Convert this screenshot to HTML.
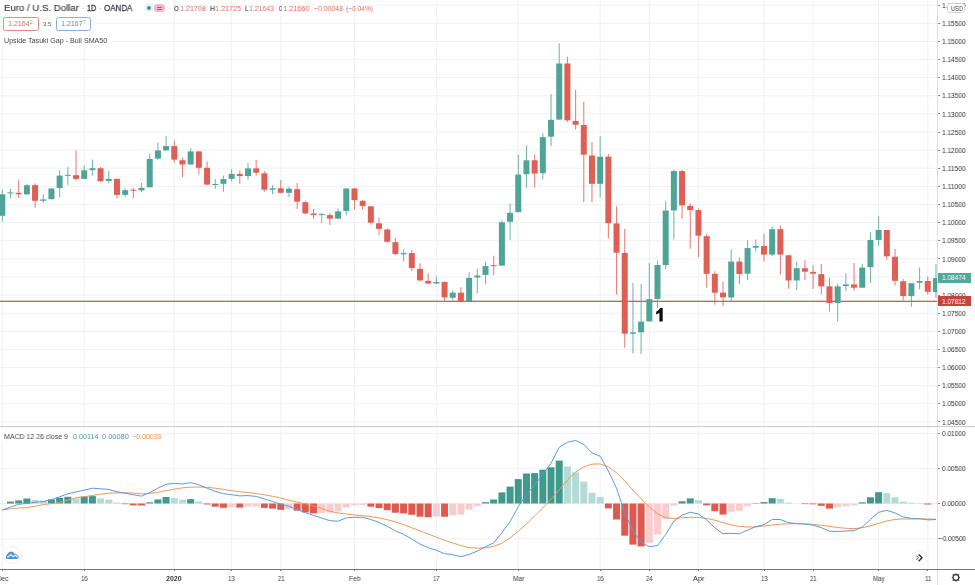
<!DOCTYPE html>
<html><head><meta charset="utf-8"><title>EURUSD</title>
<style>
html,body{margin:0;padding:0;background:#fff;}
body{width:975px;height:585px;position:relative;overflow:hidden;font-family:"Liberation Sans",sans-serif;}
svg{position:absolute;left:0;top:0;}
.t{position:absolute;white-space:nowrap;transform-origin:0 50%;will-change:transform;}
.abs{position:absolute;}
.tick{position:absolute;left:938px;width:2.4px;height:1px;background:#85888d;}
.tk2{position:absolute;top:569px;width:1px;height:2.4px;background:#6b6e73;}
</style></head><body>
<svg width="975" height="585" viewBox="0 0 975 585">
<line x1="0" x2="937.5" y1="5.2" y2="5.2" stroke="#f0f1f3" stroke-width="1"/>
<line x1="0" x2="937.5" y1="23.3" y2="23.3" stroke="#f0f1f3" stroke-width="1"/>
<line x1="0" x2="937.5" y1="41.4" y2="41.4" stroke="#f0f1f3" stroke-width="1"/>
<line x1="0" x2="937.5" y1="59.5" y2="59.5" stroke="#f0f1f3" stroke-width="1"/>
<line x1="0" x2="937.5" y1="77.6" y2="77.6" stroke="#f0f1f3" stroke-width="1"/>
<line x1="0" x2="937.5" y1="95.8" y2="95.8" stroke="#f0f1f3" stroke-width="1"/>
<line x1="0" x2="937.5" y1="113.9" y2="113.9" stroke="#f0f1f3" stroke-width="1"/>
<line x1="0" x2="937.5" y1="132.0" y2="132.0" stroke="#f0f1f3" stroke-width="1"/>
<line x1="0" x2="937.5" y1="150.1" y2="150.1" stroke="#f0f1f3" stroke-width="1"/>
<line x1="0" x2="937.5" y1="168.2" y2="168.2" stroke="#f0f1f3" stroke-width="1"/>
<line x1="0" x2="937.5" y1="186.4" y2="186.4" stroke="#f0f1f3" stroke-width="1"/>
<line x1="0" x2="937.5" y1="204.5" y2="204.5" stroke="#f0f1f3" stroke-width="1"/>
<line x1="0" x2="937.5" y1="222.6" y2="222.6" stroke="#f0f1f3" stroke-width="1"/>
<line x1="0" x2="937.5" y1="240.7" y2="240.7" stroke="#f0f1f3" stroke-width="1"/>
<line x1="0" x2="937.5" y1="258.8" y2="258.8" stroke="#f0f1f3" stroke-width="1"/>
<line x1="0" x2="937.5" y1="277.0" y2="277.0" stroke="#f0f1f3" stroke-width="1"/>
<line x1="0" x2="937.5" y1="295.1" y2="295.1" stroke="#f0f1f3" stroke-width="1"/>
<line x1="0" x2="937.5" y1="313.2" y2="313.2" stroke="#f0f1f3" stroke-width="1"/>
<line x1="0" x2="937.5" y1="331.3" y2="331.3" stroke="#f0f1f3" stroke-width="1"/>
<line x1="0" x2="937.5" y1="349.4" y2="349.4" stroke="#f0f1f3" stroke-width="1"/>
<line x1="0" x2="937.5" y1="367.6" y2="367.6" stroke="#f0f1f3" stroke-width="1"/>
<line x1="0" x2="937.5" y1="385.7" y2="385.7" stroke="#f0f1f3" stroke-width="1"/>
<line x1="0" x2="937.5" y1="403.8" y2="403.8" stroke="#f0f1f3" stroke-width="1"/>
<line x1="0" x2="937.5" y1="421.9" y2="421.9" stroke="#f0f1f3" stroke-width="1"/>
<line x1="0" x2="937.5" y1="433.3" y2="433.3" stroke="#f0f1f3" stroke-width="1"/>
<line x1="0" x2="937.5" y1="468.5" y2="468.5" stroke="#f0f1f3" stroke-width="1"/>
<line x1="0" x2="937.5" y1="503.5" y2="503.5" stroke="#f0f1f3" stroke-width="1"/>
<line x1="0" x2="937.5" y1="538.8" y2="538.8" stroke="#f0f1f3" stroke-width="1"/>
<line x1="2.3" x2="2.3" y1="0" y2="568.5" stroke="#f0f1f3" stroke-width="1"/>
<line x1="84.2" x2="84.2" y1="0" y2="568.5" stroke="#f0f1f3" stroke-width="1"/>
<line x1="174.3" x2="174.3" y1="0" y2="568.5" stroke="#f0f1f3" stroke-width="1"/>
<line x1="231.6" x2="231.6" y1="0" y2="568.5" stroke="#f0f1f3" stroke-width="1"/>
<line x1="280.8" x2="280.8" y1="0" y2="568.5" stroke="#f0f1f3" stroke-width="1"/>
<line x1="354.5" x2="354.5" y1="0" y2="568.5" stroke="#f0f1f3" stroke-width="1"/>
<line x1="436.4" x2="436.4" y1="0" y2="568.5" stroke="#f0f1f3" stroke-width="1"/>
<line x1="518.3" x2="518.3" y1="0" y2="568.5" stroke="#f0f1f3" stroke-width="1"/>
<line x1="600.2" x2="600.2" y1="0" y2="568.5" stroke="#f0f1f3" stroke-width="1"/>
<line x1="649.3" x2="649.3" y1="0" y2="568.5" stroke="#f0f1f3" stroke-width="1"/>
<line x1="698.4" x2="698.4" y1="0" y2="568.5" stroke="#f0f1f3" stroke-width="1"/>
<line x1="764.0" x2="764.0" y1="0" y2="568.5" stroke="#f0f1f3" stroke-width="1"/>
<line x1="813.1" x2="813.1" y1="0" y2="568.5" stroke="#f0f1f3" stroke-width="1"/>
<line x1="878.6" x2="878.6" y1="0" y2="568.5" stroke="#f0f1f3" stroke-width="1"/>
<line x1="927.8" x2="927.8" y1="0" y2="568.5" stroke="#f0f1f3" stroke-width="1"/>
<line x1="0" x2="937.5" y1="301.3" y2="301.3" stroke="#a9342d" stroke-width="1.05"/>
<line x1="2.30" x2="2.30" y1="189.7" y2="221.5" stroke="#4fa498" stroke-width="1.05" stroke-opacity="0.8"/>
<rect x="-0.70" y="194.3" width="6" height="21.5" fill="#4fa498"/>
<line x1="10.49" x2="10.49" y1="188.7" y2="198.4" stroke="#4fa498" stroke-width="1.05" stroke-opacity="0.8"/>
<rect x="7.49" y="192.4" width="6" height="1.0" fill="#4fa498"/>
<line x1="18.68" x2="18.68" y1="180.1" y2="198.0" stroke="#de5f55" stroke-width="1.05" stroke-opacity="0.8"/>
<rect x="15.68" y="192.8" width="6" height="1.5" fill="#de5f55"/>
<line x1="26.87" x2="26.87" y1="184.2" y2="194.9" stroke="#4fa498" stroke-width="1.05" stroke-opacity="0.8"/>
<rect x="23.87" y="185.2" width="6" height="9.1" fill="#4fa498"/>
<line x1="35.06" x2="35.06" y1="183.2" y2="207.8" stroke="#de5f55" stroke-width="1.05" stroke-opacity="0.8"/>
<rect x="32.06" y="185.2" width="6" height="15.6" fill="#de5f55"/>
<line x1="43.25" x2="43.25" y1="194.3" y2="202.7" stroke="#4fa498" stroke-width="1.05" stroke-opacity="0.8"/>
<rect x="40.25" y="199.4" width="6" height="1.4" fill="#4fa498"/>
<line x1="51.44" x2="51.44" y1="188.5" y2="199.2" stroke="#4fa498" stroke-width="1.05" stroke-opacity="0.8"/>
<rect x="48.44" y="188.5" width="6" height="10.7" fill="#4fa498"/>
<line x1="59.63" x2="59.63" y1="170.3" y2="197.3" stroke="#4fa498" stroke-width="1.05" stroke-opacity="0.8"/>
<rect x="56.63" y="175.6" width="6" height="12.5" fill="#4fa498"/>
<line x1="67.82" x2="67.82" y1="166.8" y2="185.2" stroke="#4fa498" stroke-width="1.05" stroke-opacity="0.8"/>
<rect x="64.82" y="174.8" width="6" height="1.0" fill="#4fa498"/>
<line x1="76.01" x2="76.01" y1="150.2" y2="181.1" stroke="#de5f55" stroke-width="1.05" stroke-opacity="0.8"/>
<rect x="73.01" y="175.2" width="6" height="3.7" fill="#de5f55"/>
<line x1="84.20" x2="84.20" y1="165.5" y2="178.9" stroke="#4fa498" stroke-width="1.05" stroke-opacity="0.8"/>
<rect x="81.20" y="170.3" width="6" height="8.6" fill="#4fa498"/>
<line x1="92.39" x2="92.39" y1="159.6" y2="175.6" stroke="#4fa498" stroke-width="1.05" stroke-opacity="0.8"/>
<rect x="89.39" y="168.2" width="6" height="1.9" fill="#4fa498"/>
<line x1="100.58" x2="100.58" y1="167.0" y2="182.2" stroke="#de5f55" stroke-width="1.05" stroke-opacity="0.8"/>
<rect x="97.58" y="168.2" width="6" height="12.9" fill="#de5f55"/>
<line x1="108.77" x2="108.77" y1="170.7" y2="183.6" stroke="#4fa498" stroke-width="1.05" stroke-opacity="0.8"/>
<rect x="105.77" y="178.9" width="6" height="2.0" fill="#4fa498"/>
<line x1="116.96" x2="116.96" y1="178.3" y2="198.4" stroke="#de5f55" stroke-width="1.05" stroke-opacity="0.8"/>
<rect x="113.96" y="178.9" width="6" height="16.0" fill="#de5f55"/>
<line x1="125.15" x2="125.15" y1="188.3" y2="196.9" stroke="#4fa498" stroke-width="1.05" stroke-opacity="0.8"/>
<rect x="122.15" y="190.2" width="6" height="4.7" fill="#4fa498"/>
<line x1="133.34" x2="133.34" y1="187.7" y2="197.9" stroke="#de5f55" stroke-width="1.05" stroke-opacity="0.8"/>
<rect x="130.34" y="189.7" width="6" height="1.0" fill="#de5f55"/>
<line x1="141.53" x2="141.53" y1="183.0" y2="192.2" stroke="#4fa498" stroke-width="1.05" stroke-opacity="0.8"/>
<rect x="138.53" y="187.9" width="6" height="2.5" fill="#4fa498"/>
<line x1="149.72" x2="149.72" y1="153.8" y2="187.3" stroke="#4fa498" stroke-width="1.05" stroke-opacity="0.8"/>
<rect x="146.72" y="159.0" width="6" height="28.3" fill="#4fa498"/>
<line x1="157.91" x2="157.91" y1="142.6" y2="160.0" stroke="#4fa498" stroke-width="1.05" stroke-opacity="0.8"/>
<rect x="154.91" y="150.4" width="6" height="8.2" fill="#4fa498"/>
<line x1="166.10" x2="166.10" y1="136.0" y2="150.8" stroke="#4fa498" stroke-width="1.05" stroke-opacity="0.8"/>
<rect x="163.10" y="146.1" width="6" height="4.3" fill="#4fa498"/>
<line x1="174.29" x2="174.29" y1="140.5" y2="163.1" stroke="#de5f55" stroke-width="1.05" stroke-opacity="0.8"/>
<rect x="171.29" y="146.1" width="6" height="13.5" fill="#de5f55"/>
<line x1="182.48" x2="182.48" y1="157.5" y2="177.0" stroke="#de5f55" stroke-width="1.05" stroke-opacity="0.8"/>
<rect x="179.48" y="160.2" width="6" height="4.3" fill="#de5f55"/>
<line x1="190.67" x2="190.67" y1="148.1" y2="165.1" stroke="#4fa498" stroke-width="1.05" stroke-opacity="0.8"/>
<rect x="187.67" y="151.4" width="6" height="13.1" fill="#4fa498"/>
<line x1="198.86" x2="198.86" y1="151.4" y2="174.4" stroke="#de5f55" stroke-width="1.05" stroke-opacity="0.8"/>
<rect x="195.86" y="151.4" width="6" height="16.4" fill="#de5f55"/>
<line x1="207.05" x2="207.05" y1="161.6" y2="185.2" stroke="#de5f55" stroke-width="1.05" stroke-opacity="0.8"/>
<rect x="204.05" y="167.8" width="6" height="16.8" fill="#de5f55"/>
<line x1="215.24" x2="215.24" y1="179.1" y2="188.7" stroke="#4fa498" stroke-width="1.05" stroke-opacity="0.8"/>
<rect x="212.24" y="184.0" width="6" height="1.0" fill="#4fa498"/>
<line x1="223.43" x2="223.43" y1="175.4" y2="191.8" stroke="#4fa498" stroke-width="1.05" stroke-opacity="0.8"/>
<rect x="220.43" y="179.1" width="6" height="4.7" fill="#4fa498"/>
<line x1="231.62" x2="231.62" y1="169.2" y2="181.5" stroke="#4fa498" stroke-width="1.05" stroke-opacity="0.8"/>
<rect x="228.62" y="173.9" width="6" height="5.0" fill="#4fa498"/>
<line x1="239.81" x2="239.81" y1="170.3" y2="184.0" stroke="#de5f55" stroke-width="1.05" stroke-opacity="0.8"/>
<rect x="236.81" y="173.9" width="6" height="2.1" fill="#de5f55"/>
<line x1="248.00" x2="248.00" y1="163.1" y2="179.5" stroke="#4fa498" stroke-width="1.05" stroke-opacity="0.8"/>
<rect x="245.00" y="168.4" width="6" height="7.6" fill="#4fa498"/>
<line x1="256.19" x2="256.19" y1="160.0" y2="175.4" stroke="#de5f55" stroke-width="1.05" stroke-opacity="0.8"/>
<rect x="253.19" y="168.4" width="6" height="4.3" fill="#de5f55"/>
<line x1="264.38" x2="264.38" y1="171.3" y2="191.4" stroke="#de5f55" stroke-width="1.05" stroke-opacity="0.8"/>
<rect x="261.38" y="173.3" width="6" height="16.4" fill="#de5f55"/>
<line x1="272.57" x2="272.57" y1="185.2" y2="194.3" stroke="#4fa498" stroke-width="1.05" stroke-opacity="0.8"/>
<rect x="269.57" y="188.3" width="6" height="1.4" fill="#4fa498"/>
<line x1="280.76" x2="280.76" y1="179.9" y2="193.2" stroke="#de5f55" stroke-width="1.05" stroke-opacity="0.8"/>
<rect x="277.76" y="188.3" width="6" height="4.5" fill="#de5f55"/>
<line x1="288.95" x2="288.95" y1="186.7" y2="196.9" stroke="#4fa498" stroke-width="1.05" stroke-opacity="0.8"/>
<rect x="285.95" y="188.7" width="6" height="4.1" fill="#4fa498"/>
<line x1="297.14" x2="297.14" y1="183.0" y2="209.1" stroke="#de5f55" stroke-width="1.05" stroke-opacity="0.8"/>
<rect x="294.14" y="189.1" width="6" height="12.6" fill="#de5f55"/>
<line x1="305.33" x2="305.33" y1="200.4" y2="214.6" stroke="#de5f55" stroke-width="1.05" stroke-opacity="0.8"/>
<rect x="302.33" y="202.2" width="6" height="11.2" fill="#de5f55"/>
<line x1="313.52" x2="313.52" y1="209.0" y2="218.8" stroke="#de5f55" stroke-width="1.05" stroke-opacity="0.8"/>
<rect x="310.52" y="213.5" width="6" height="1.6" fill="#de5f55"/>
<line x1="321.71" x2="321.71" y1="213.1" y2="223.3" stroke="#4fa498" stroke-width="1.05" stroke-opacity="0.8"/>
<rect x="318.71" y="214.1" width="6" height="1.0" fill="#4fa498"/>
<line x1="329.90" x2="329.90" y1="213.1" y2="225.0" stroke="#de5f55" stroke-width="1.05" stroke-opacity="0.8"/>
<rect x="326.90" y="215.1" width="6" height="3.5" fill="#de5f55"/>
<line x1="338.09" x2="338.09" y1="208.6" y2="219.2" stroke="#4fa498" stroke-width="1.05" stroke-opacity="0.8"/>
<rect x="335.09" y="211.4" width="6" height="7.2" fill="#4fa498"/>
<line x1="346.28" x2="346.28" y1="188.5" y2="215.5" stroke="#4fa498" stroke-width="1.05" stroke-opacity="0.8"/>
<rect x="343.28" y="188.5" width="6" height="22.5" fill="#4fa498"/>
<line x1="354.47" x2="354.47" y1="188.0" y2="209.4" stroke="#de5f55" stroke-width="1.05" stroke-opacity="0.8"/>
<rect x="351.47" y="188.5" width="6" height="11.7" fill="#de5f55"/>
<line x1="362.66" x2="362.66" y1="199.7" y2="210.0" stroke="#de5f55" stroke-width="1.05" stroke-opacity="0.8"/>
<rect x="359.66" y="200.8" width="6" height="5.1" fill="#de5f55"/>
<line x1="370.85" x2="370.85" y1="205.9" y2="224.4" stroke="#de5f55" stroke-width="1.05" stroke-opacity="0.8"/>
<rect x="367.85" y="206.3" width="6" height="16.4" fill="#de5f55"/>
<line x1="379.04" x2="379.04" y1="217.6" y2="235.2" stroke="#de5f55" stroke-width="1.05" stroke-opacity="0.8"/>
<rect x="376.04" y="223.3" width="6" height="5.6" fill="#de5f55"/>
<line x1="387.23" x2="387.23" y1="228.5" y2="242.8" stroke="#de5f55" stroke-width="1.05" stroke-opacity="0.8"/>
<rect x="384.23" y="229.5" width="6" height="12.3" fill="#de5f55"/>
<line x1="395.42" x2="395.42" y1="238.1" y2="254.7" stroke="#de5f55" stroke-width="1.05" stroke-opacity="0.8"/>
<rect x="392.42" y="242.2" width="6" height="11.9" fill="#de5f55"/>
<line x1="403.61" x2="403.61" y1="249.6" y2="261.3" stroke="#4fa498" stroke-width="1.05" stroke-opacity="0.8"/>
<rect x="400.61" y="253.1" width="6" height="1.2" fill="#4fa498"/>
<line x1="411.80" x2="411.80" y1="250.0" y2="270.9" stroke="#de5f55" stroke-width="1.05" stroke-opacity="0.8"/>
<rect x="408.80" y="253.1" width="6" height="15.0" fill="#de5f55"/>
<line x1="419.99" x2="419.99" y1="263.3" y2="281.8" stroke="#de5f55" stroke-width="1.05" stroke-opacity="0.8"/>
<rect x="416.99" y="268.9" width="6" height="11.5" fill="#de5f55"/>
<line x1="428.18" x2="428.18" y1="273.2" y2="284.0" stroke="#de5f55" stroke-width="1.05" stroke-opacity="0.8"/>
<rect x="425.18" y="280.9" width="6" height="2.6" fill="#de5f55"/>
<line x1="436.37" x2="436.37" y1="276.5" y2="284.1" stroke="#4fa498" stroke-width="1.05" stroke-opacity="0.8"/>
<rect x="433.37" y="282.0" width="6" height="1.5" fill="#4fa498"/>
<line x1="444.56" x2="444.56" y1="281.6" y2="300.5" stroke="#de5f55" stroke-width="1.05" stroke-opacity="0.8"/>
<rect x="441.56" y="282.0" width="6" height="15.4" fill="#de5f55"/>
<line x1="452.75" x2="452.75" y1="290.3" y2="300.5" stroke="#4fa498" stroke-width="1.05" stroke-opacity="0.8"/>
<rect x="449.75" y="292.7" width="6" height="5.1" fill="#4fa498"/>
<line x1="460.94" x2="460.94" y1="287.2" y2="302.6" stroke="#de5f55" stroke-width="1.05" stroke-opacity="0.8"/>
<rect x="457.94" y="292.7" width="6" height="8.8" fill="#de5f55"/>
<line x1="469.13" x2="469.13" y1="272.2" y2="301.1" stroke="#4fa498" stroke-width="1.05" stroke-opacity="0.8"/>
<rect x="466.13" y="277.9" width="6" height="23.2" fill="#4fa498"/>
<line x1="477.32" x2="477.32" y1="268.7" y2="293.3" stroke="#4fa498" stroke-width="1.05" stroke-opacity="0.8"/>
<rect x="474.32" y="275.5" width="6" height="2.0" fill="#4fa498"/>
<line x1="485.51" x2="485.51" y1="261.5" y2="284.1" stroke="#4fa498" stroke-width="1.05" stroke-opacity="0.8"/>
<rect x="482.51" y="266.1" width="6" height="8.8" fill="#4fa498"/>
<line x1="493.70" x2="493.70" y1="255.8" y2="274.9" stroke="#de5f55" stroke-width="1.05" stroke-opacity="0.8"/>
<rect x="490.70" y="265.2" width="6" height="1.0" fill="#de5f55"/>
<line x1="501.89" x2="501.89" y1="220.5" y2="265.6" stroke="#4fa498" stroke-width="1.05" stroke-opacity="0.8"/>
<rect x="498.89" y="222.3" width="6" height="43.3" fill="#4fa498"/>
<line x1="510.08" x2="510.08" y1="203.5" y2="240.0" stroke="#4fa498" stroke-width="1.05" stroke-opacity="0.8"/>
<rect x="507.08" y="212.8" width="6" height="9.0" fill="#4fa498"/>
<line x1="518.27" x2="518.27" y1="154.7" y2="212.2" stroke="#4fa498" stroke-width="1.05" stroke-opacity="0.8"/>
<rect x="515.27" y="174.6" width="6" height="37.6" fill="#4fa498"/>
<line x1="526.46" x2="526.46" y1="145.3" y2="187.5" stroke="#4fa498" stroke-width="1.05" stroke-opacity="0.8"/>
<rect x="523.46" y="160.3" width="6" height="13.9" fill="#4fa498"/>
<line x1="534.65" x2="534.65" y1="154.5" y2="187.5" stroke="#de5f55" stroke-width="1.05" stroke-opacity="0.8"/>
<rect x="531.65" y="160.3" width="6" height="13.3" fill="#de5f55"/>
<line x1="542.84" x2="542.84" y1="133.6" y2="179.3" stroke="#4fa498" stroke-width="1.05" stroke-opacity="0.8"/>
<rect x="539.84" y="137.2" width="6" height="36.0" fill="#4fa498"/>
<line x1="551.03" x2="551.03" y1="94.0" y2="145.9" stroke="#4fa498" stroke-width="1.05" stroke-opacity="0.8"/>
<rect x="548.03" y="119.8" width="6" height="16.9" fill="#4fa498"/>
<line x1="559.22" x2="559.22" y1="43.3" y2="119.6" stroke="#4fa498" stroke-width="1.05" stroke-opacity="0.8"/>
<rect x="556.22" y="63.5" width="6" height="56.1" fill="#4fa498"/>
<line x1="567.41" x2="567.41" y1="56.7" y2="122.3" stroke="#de5f55" stroke-width="1.05" stroke-opacity="0.8"/>
<rect x="564.41" y="63.5" width="6" height="56.8" fill="#de5f55"/>
<line x1="575.60" x2="575.60" y1="89.5" y2="129.5" stroke="#de5f55" stroke-width="1.05" stroke-opacity="0.8"/>
<rect x="572.60" y="120.9" width="6" height="3.9" fill="#de5f55"/>
<line x1="583.79" x2="583.79" y1="101.8" y2="202.3" stroke="#de5f55" stroke-width="1.05" stroke-opacity="0.8"/>
<rect x="580.79" y="125.0" width="6" height="29.7" fill="#de5f55"/>
<line x1="591.98" x2="591.98" y1="142.0" y2="202.3" stroke="#de5f55" stroke-width="1.05" stroke-opacity="0.8"/>
<rect x="588.98" y="155.5" width="6" height="28.3" fill="#de5f55"/>
<line x1="600.17" x2="600.17" y1="136.3" y2="197.4" stroke="#4fa498" stroke-width="1.05" stroke-opacity="0.8"/>
<rect x="597.17" y="156.7" width="6" height="27.1" fill="#4fa498"/>
<line x1="608.36" x2="608.36" y1="154.1" y2="238.6" stroke="#de5f55" stroke-width="1.05" stroke-opacity="0.8"/>
<rect x="605.36" y="156.7" width="6" height="66.5" fill="#de5f55"/>
<line x1="616.55" x2="616.55" y1="206.2" y2="294.4" stroke="#de5f55" stroke-width="1.05" stroke-opacity="0.8"/>
<rect x="613.55" y="223.4" width="6" height="29.3" fill="#de5f55"/>
<line x1="624.74" x2="624.74" y1="229.0" y2="347.7" stroke="#de5f55" stroke-width="1.05" stroke-opacity="0.8"/>
<rect x="621.74" y="253.0" width="6" height="80.7" fill="#de5f55"/>
<line x1="632.93" x2="632.93" y1="283.1" y2="353.4" stroke="#4fa498" stroke-width="1.05" stroke-opacity="0.8"/>
<rect x="629.93" y="332.3" width="6" height="1.4" fill="#4fa498"/>
<line x1="641.12" x2="641.12" y1="284.1" y2="353.8" stroke="#4fa498" stroke-width="1.05" stroke-opacity="0.8"/>
<rect x="638.12" y="321.6" width="6" height="10.7" fill="#4fa498"/>
<line x1="649.31" x2="649.31" y1="263.0" y2="321.4" stroke="#4fa498" stroke-width="1.05" stroke-opacity="0.8"/>
<rect x="646.31" y="299.1" width="6" height="22.3" fill="#4fa498"/>
<line x1="657.50" x2="657.50" y1="260.6" y2="307.7" stroke="#4fa498" stroke-width="1.05" stroke-opacity="0.8"/>
<rect x="654.50" y="265.0" width="6" height="33.9" fill="#4fa498"/>
<line x1="665.69" x2="665.69" y1="201.3" y2="269.3" stroke="#4fa498" stroke-width="1.05" stroke-opacity="0.8"/>
<rect x="662.69" y="210.5" width="6" height="54.5" fill="#4fa498"/>
<line x1="673.88" x2="673.88" y1="169.5" y2="239.2" stroke="#4fa498" stroke-width="1.05" stroke-opacity="0.8"/>
<rect x="670.88" y="171.1" width="6" height="39.4" fill="#4fa498"/>
<line x1="682.07" x2="682.07" y1="169.9" y2="218.7" stroke="#de5f55" stroke-width="1.05" stroke-opacity="0.8"/>
<rect x="679.07" y="171.1" width="6" height="34.3" fill="#de5f55"/>
<line x1="690.26" x2="690.26" y1="203.3" y2="248.8" stroke="#de5f55" stroke-width="1.05" stroke-opacity="0.8"/>
<rect x="687.26" y="205.8" width="6" height="4.3" fill="#de5f55"/>
<line x1="698.45" x2="698.45" y1="208.5" y2="257.0" stroke="#de5f55" stroke-width="1.05" stroke-opacity="0.8"/>
<rect x="695.45" y="210.1" width="6" height="25.6" fill="#de5f55"/>
<line x1="706.64" x2="706.64" y1="234.1" y2="287.6" stroke="#de5f55" stroke-width="1.05" stroke-opacity="0.8"/>
<rect x="703.64" y="236.2" width="6" height="37.6" fill="#de5f55"/>
<line x1="714.83" x2="714.83" y1="271.2" y2="304.6" stroke="#de5f55" stroke-width="1.05" stroke-opacity="0.8"/>
<rect x="711.83" y="273.8" width="6" height="18.9" fill="#de5f55"/>
<line x1="723.02" x2="723.02" y1="281.4" y2="306.0" stroke="#de5f55" stroke-width="1.05" stroke-opacity="0.8"/>
<rect x="720.02" y="292.7" width="6" height="4.7" fill="#de5f55"/>
<line x1="731.21" x2="731.21" y1="249.3" y2="301.5" stroke="#4fa498" stroke-width="1.05" stroke-opacity="0.8"/>
<rect x="728.21" y="261.5" width="6" height="35.9" fill="#4fa498"/>
<line x1="739.40" x2="739.40" y1="257.5" y2="284.1" stroke="#de5f55" stroke-width="1.05" stroke-opacity="0.8"/>
<rect x="736.40" y="261.6" width="6" height="12.4" fill="#de5f55"/>
<line x1="747.59" x2="747.59" y1="240.3" y2="279.9" stroke="#4fa498" stroke-width="1.05" stroke-opacity="0.8"/>
<rect x="744.59" y="248.1" width="6" height="25.6" fill="#4fa498"/>
<line x1="755.78" x2="755.78" y1="239.5" y2="251.8" stroke="#4fa498" stroke-width="1.05" stroke-opacity="0.8"/>
<rect x="752.78" y="246.0" width="6" height="1.7" fill="#4fa498"/>
<line x1="763.97" x2="763.97" y1="233.7" y2="261.4" stroke="#de5f55" stroke-width="1.05" stroke-opacity="0.8"/>
<rect x="760.97" y="246.0" width="6" height="8.6" fill="#de5f55"/>
<line x1="772.16" x2="772.16" y1="226.5" y2="255.9" stroke="#4fa498" stroke-width="1.05" stroke-opacity="0.8"/>
<rect x="769.16" y="229.2" width="6" height="25.4" fill="#4fa498"/>
<line x1="780.35" x2="780.35" y1="225.5" y2="274.7" stroke="#de5f55" stroke-width="1.05" stroke-opacity="0.8"/>
<rect x="777.35" y="229.2" width="6" height="25.4" fill="#de5f55"/>
<line x1="788.54" x2="788.54" y1="255.3" y2="288.7" stroke="#de5f55" stroke-width="1.05" stroke-opacity="0.8"/>
<rect x="785.54" y="255.3" width="6" height="25.2" fill="#de5f55"/>
<line x1="796.73" x2="796.73" y1="261.4" y2="290.1" stroke="#4fa498" stroke-width="1.05" stroke-opacity="0.8"/>
<rect x="793.73" y="268.2" width="6" height="12.3" fill="#4fa498"/>
<line x1="804.92" x2="804.92" y1="260.0" y2="279.9" stroke="#de5f55" stroke-width="1.05" stroke-opacity="0.8"/>
<rect x="801.92" y="268.2" width="6" height="3.5" fill="#de5f55"/>
<line x1="813.11" x2="813.11" y1="265.5" y2="289.1" stroke="#de5f55" stroke-width="1.05" stroke-opacity="0.8"/>
<rect x="810.11" y="271.9" width="6" height="1.8" fill="#de5f55"/>
<line x1="821.30" x2="821.30" y1="264.1" y2="294.2" stroke="#de5f55" stroke-width="1.05" stroke-opacity="0.8"/>
<rect x="818.30" y="274.1" width="6" height="12.3" fill="#de5f55"/>
<line x1="829.49" x2="829.49" y1="277.8" y2="311.3" stroke="#de5f55" stroke-width="1.05" stroke-opacity="0.8"/>
<rect x="826.49" y="286.4" width="6" height="16.7" fill="#de5f55"/>
<line x1="837.68" x2="837.68" y1="284.0" y2="321.5" stroke="#4fa498" stroke-width="1.05" stroke-opacity="0.8"/>
<rect x="834.68" y="286.4" width="6" height="16.7" fill="#4fa498"/>
<line x1="845.87" x2="845.87" y1="273.3" y2="291.2" stroke="#4fa498" stroke-width="1.05" stroke-opacity="0.8"/>
<rect x="842.87" y="284.4" width="6" height="1.6" fill="#4fa498"/>
<line x1="854.06" x2="854.06" y1="263.1" y2="290.7" stroke="#de5f55" stroke-width="1.05" stroke-opacity="0.8"/>
<rect x="851.06" y="284.4" width="6" height="3.3" fill="#de5f55"/>
<line x1="862.25" x2="862.25" y1="264.1" y2="287.7" stroke="#4fa498" stroke-width="1.05" stroke-opacity="0.8"/>
<rect x="859.25" y="267.6" width="6" height="20.1" fill="#4fa498"/>
<line x1="870.44" x2="870.44" y1="232.3" y2="283.0" stroke="#4fa498" stroke-width="1.05" stroke-opacity="0.8"/>
<rect x="867.44" y="239.9" width="6" height="27.3" fill="#4fa498"/>
<line x1="878.63" x2="878.63" y1="215.7" y2="246.0" stroke="#4fa498" stroke-width="1.05" stroke-opacity="0.8"/>
<rect x="875.63" y="230.0" width="6" height="9.9" fill="#4fa498"/>
<line x1="886.82" x2="886.82" y1="230.0" y2="259.8" stroke="#de5f55" stroke-width="1.05" stroke-opacity="0.8"/>
<rect x="883.82" y="230.0" width="6" height="26.3" fill="#de5f55"/>
<line x1="895.01" x2="895.01" y1="249.0" y2="285.3" stroke="#de5f55" stroke-width="1.05" stroke-opacity="0.8"/>
<rect x="892.01" y="256.8" width="6" height="24.0" fill="#de5f55"/>
<line x1="903.20" x2="903.20" y1="279.0" y2="300.3" stroke="#de5f55" stroke-width="1.05" stroke-opacity="0.8"/>
<rect x="900.20" y="281.2" width="6" height="14.9" fill="#de5f55"/>
<line x1="911.39" x2="911.39" y1="283.2" y2="306.8" stroke="#4fa498" stroke-width="1.05" stroke-opacity="0.8"/>
<rect x="908.39" y="283.2" width="6" height="12.9" fill="#4fa498"/>
<line x1="919.58" x2="919.58" y1="267.5" y2="289.2" stroke="#4fa498" stroke-width="1.05" stroke-opacity="0.8"/>
<rect x="916.58" y="281.0" width="6" height="1.7" fill="#4fa498"/>
<line x1="927.77" x2="927.77" y1="276.4" y2="294.4" stroke="#de5f55" stroke-width="1.05" stroke-opacity="0.8"/>
<rect x="924.77" y="281.0" width="6" height="10.8" fill="#de5f55"/>
<line x1="935.96" x2="935.96" y1="264.1" y2="297.8" stroke="#4fa498" stroke-width="1.05" stroke-opacity="0.8"/>
<rect x="932.96" y="278.1" width="6" height="14.0" fill="#4fa498"/>
<rect x="6.99" y="501.6" width="7" height="1.9" fill="#3f9a8d"/>
<rect x="15.18" y="500.4" width="7" height="3.1" fill="#3f9a8d"/>
<rect x="23.37" y="498.5" width="7" height="5.0" fill="#3f9a8d"/>
<rect x="31.56" y="499.7" width="7" height="3.8" fill="#b4dbd5"/>
<rect x="39.75" y="500.8" width="7" height="2.7" fill="#b4dbd5"/>
<rect x="47.94" y="499.4" width="7" height="4.1" fill="#3f9a8d"/>
<rect x="56.13" y="497.7" width="7" height="5.8" fill="#3f9a8d"/>
<rect x="64.32" y="496.8" width="7" height="6.7" fill="#3f9a8d"/>
<rect x="72.51" y="498.5" width="7" height="5.0" fill="#b4dbd5"/>
<rect x="80.70" y="496.5" width="7" height="7.0" fill="#3f9a8d"/>
<rect x="88.89" y="496.1" width="7" height="7.4" fill="#3f9a8d"/>
<rect x="97.08" y="498.4" width="7" height="5.1" fill="#b4dbd5"/>
<rect x="105.27" y="499.7" width="7" height="3.8" fill="#b4dbd5"/>
<rect x="113.46" y="502.5" width="7" height="1.0" fill="#b4dbd5"/>
<rect x="121.65" y="503.5" width="7" height="0.7" fill="#de5a50"/>
<rect x="129.84" y="503.5" width="7" height="1.9" fill="#de5a50"/>
<rect x="138.03" y="503.5" width="7" height="2.0" fill="#de5a50"/>
<rect x="146.22" y="502.3" width="7" height="1.2" fill="#3f9a8d"/>
<rect x="154.41" y="499.4" width="7" height="4.1" fill="#3f9a8d"/>
<rect x="162.60" y="497.0" width="7" height="6.5" fill="#3f9a8d"/>
<rect x="170.79" y="498.0" width="7" height="5.5" fill="#b4dbd5"/>
<rect x="178.98" y="499.7" width="7" height="3.8" fill="#b4dbd5"/>
<rect x="187.17" y="499.1" width="7" height="4.4" fill="#3f9a8d"/>
<rect x="195.36" y="501.5" width="7" height="2.0" fill="#b4dbd5"/>
<rect x="203.55" y="503.5" width="7" height="1.0" fill="#de5a50"/>
<rect x="211.74" y="503.5" width="7" height="3.2" fill="#de5a50"/>
<rect x="219.93" y="503.5" width="7" height="4.3" fill="#de5a50"/>
<rect x="228.12" y="503.5" width="7" height="3.9" fill="#f7cdd0"/>
<rect x="236.31" y="503.5" width="7" height="4.1" fill="#de5a50"/>
<rect x="244.50" y="503.5" width="7" height="3.1" fill="#f7cdd0"/>
<rect x="252.69" y="503.5" width="7" height="3.0" fill="#f7cdd0"/>
<rect x="260.88" y="503.5" width="7" height="4.4" fill="#de5a50"/>
<rect x="269.07" y="503.5" width="7" height="5.1" fill="#de5a50"/>
<rect x="277.26" y="503.5" width="7" height="6.3" fill="#de5a50"/>
<rect x="285.45" y="503.5" width="7" height="5.8" fill="#f7cdd0"/>
<rect x="293.64" y="503.5" width="7" height="7.2" fill="#de5a50"/>
<rect x="301.83" y="503.5" width="7" height="8.9" fill="#de5a50"/>
<rect x="310.02" y="503.5" width="7" height="9.9" fill="#de5a50"/>
<rect x="318.21" y="503.5" width="7" height="9.6" fill="#f7cdd0"/>
<rect x="326.40" y="503.5" width="7" height="9.2" fill="#f7cdd0"/>
<rect x="334.59" y="503.5" width="7" height="7.9" fill="#f7cdd0"/>
<rect x="342.78" y="503.5" width="7" height="4.1" fill="#f7cdd0"/>
<rect x="350.97" y="503.5" width="7" height="1.9" fill="#f7cdd0"/>
<rect x="359.16" y="503.5" width="7" height="1.7" fill="#f7cdd0"/>
<rect x="367.35" y="503.5" width="7" height="3.2" fill="#de5a50"/>
<rect x="375.54" y="503.5" width="7" height="4.6" fill="#de5a50"/>
<rect x="383.73" y="503.5" width="7" height="6.7" fill="#de5a50"/>
<rect x="391.92" y="503.5" width="7" height="9.2" fill="#de5a50"/>
<rect x="400.11" y="503.5" width="7" height="9.9" fill="#de5a50"/>
<rect x="408.30" y="503.5" width="7" height="11.3" fill="#de5a50"/>
<rect x="416.49" y="503.5" width="7" height="13.2" fill="#de5a50"/>
<rect x="424.68" y="503.5" width="7" height="13.8" fill="#de5a50"/>
<rect x="432.87" y="503.5" width="7" height="13.0" fill="#f7cdd0"/>
<rect x="441.06" y="503.5" width="7" height="13.2" fill="#de5a50"/>
<rect x="449.25" y="503.5" width="7" height="11.9" fill="#f7cdd0"/>
<rect x="457.44" y="503.5" width="7" height="11.1" fill="#f7cdd0"/>
<rect x="465.63" y="503.5" width="7" height="6.2" fill="#f7cdd0"/>
<rect x="473.82" y="503.5" width="7" height="2.7" fill="#f7cdd0"/>
<rect x="482.01" y="502.2" width="7" height="1.3" fill="#3f9a8d"/>
<rect x="490.20" y="499.5" width="7" height="4.0" fill="#3f9a8d"/>
<rect x="498.39" y="492.4" width="7" height="11.1" fill="#3f9a8d"/>
<rect x="506.58" y="486.6" width="7" height="16.9" fill="#3f9a8d"/>
<rect x="514.77" y="479.1" width="7" height="24.4" fill="#3f9a8d"/>
<rect x="522.96" y="473.5" width="7" height="30.0" fill="#3f9a8d"/>
<rect x="531.15" y="473.1" width="7" height="30.4" fill="#3f9a8d"/>
<rect x="539.34" y="469.7" width="7" height="33.8" fill="#3f9a8d"/>
<rect x="547.53" y="467.3" width="7" height="36.2" fill="#3f9a8d"/>
<rect x="555.72" y="460.6" width="7" height="42.9" fill="#3f9a8d"/>
<rect x="563.91" y="466.4" width="7" height="37.1" fill="#b4dbd5"/>
<rect x="572.10" y="472.4" width="7" height="31.1" fill="#b4dbd5"/>
<rect x="580.29" y="481.7" width="7" height="21.8" fill="#b4dbd5"/>
<rect x="588.48" y="492.8" width="7" height="10.7" fill="#b4dbd5"/>
<rect x="596.67" y="496.8" width="7" height="6.7" fill="#b4dbd5"/>
<rect x="604.86" y="503.5" width="7" height="4.9" fill="#de5a50"/>
<rect x="613.05" y="503.5" width="7" height="16.0" fill="#de5a50"/>
<rect x="621.24" y="503.5" width="7" height="32.2" fill="#de5a50"/>
<rect x="629.43" y="503.5" width="7" height="41.1" fill="#de5a50"/>
<rect x="637.62" y="503.5" width="7" height="42.9" fill="#de5a50"/>
<rect x="645.81" y="503.5" width="7" height="39.6" fill="#f7cdd0"/>
<rect x="654.00" y="503.5" width="7" height="31.1" fill="#f7cdd0"/>
<rect x="662.19" y="503.5" width="7" height="15.6" fill="#f7cdd0"/>
<rect x="670.38" y="503.5" width="7" height="2.2" fill="#f7cdd0"/>
<rect x="678.57" y="501.3" width="7" height="2.2" fill="#3f9a8d"/>
<rect x="686.76" y="498.4" width="7" height="5.1" fill="#3f9a8d"/>
<rect x="694.95" y="500.2" width="7" height="3.3" fill="#b4dbd5"/>
<rect x="703.14" y="503.5" width="7" height="1.8" fill="#de5a50"/>
<rect x="711.33" y="503.5" width="7" height="7.8" fill="#de5a50"/>
<rect x="719.52" y="503.5" width="7" height="11.1" fill="#de5a50"/>
<rect x="727.71" y="503.5" width="7" height="8.2" fill="#f7cdd0"/>
<rect x="735.90" y="503.5" width="7" height="7.3" fill="#f7cdd0"/>
<rect x="744.09" y="503.5" width="7" height="2.8" fill="#f7cdd0"/>
<rect x="752.28" y="503.1" width="7" height="0.4" fill="#3f9a8d"/>
<rect x="760.47" y="502.1" width="7" height="1.4" fill="#3f9a8d"/>
<rect x="768.66" y="498.2" width="7" height="5.3" fill="#3f9a8d"/>
<rect x="776.85" y="498.8" width="7" height="4.7" fill="#b4dbd5"/>
<rect x="785.04" y="502.5" width="7" height="1.0" fill="#b4dbd5"/>
<rect x="801.42" y="503.5" width="7" height="0.6" fill="#de5a50"/>
<rect x="809.61" y="503.5" width="7" height="0.8" fill="#de5a50"/>
<rect x="817.80" y="503.5" width="7" height="2.3" fill="#de5a50"/>
<rect x="825.99" y="503.5" width="7" height="5.1" fill="#de5a50"/>
<rect x="834.18" y="503.5" width="7" height="3.7" fill="#f7cdd0"/>
<rect x="842.37" y="503.5" width="7" height="2.7" fill="#f7cdd0"/>
<rect x="850.56" y="503.5" width="7" height="1.8" fill="#f7cdd0"/>
<rect x="858.75" y="502.3" width="7" height="1.2" fill="#3f9a8d"/>
<rect x="866.94" y="497.3" width="7" height="6.2" fill="#3f9a8d"/>
<rect x="875.13" y="492.2" width="7" height="11.3" fill="#3f9a8d"/>
<rect x="883.32" y="493.2" width="7" height="10.3" fill="#b4dbd5"/>
<rect x="891.51" y="497.3" width="7" height="6.2" fill="#b4dbd5"/>
<rect x="899.70" y="501.7" width="7" height="1.8" fill="#b4dbd5"/>
<rect x="907.89" y="502.7" width="7" height="0.8" fill="#b4dbd5"/>
<rect x="916.08" y="503.1" width="7" height="0.4" fill="#b4dbd5"/>
<rect x="924.27" y="503.5" width="7" height="1.0" fill="#de5a50"/>
<rect x="932.46" y="503.5" width="7" height="0.3" fill="#f7cdd0"/>
<path d="M2.3,509.9 L10.5,508.8 L18.7,508.0 L26.9,507.6 L35.1,506.3 L43.2,504.6 L51.4,503.6 L59.6,502.4 L67.8,500.1 L76.0,497.9 L84.2,496.7 L92.4,495.5 L100.6,494.1 L108.8,493.3 L117.0,492.8 L125.1,492.7 L133.3,493.1 L141.5,493.8 L149.7,493.5 L157.9,492.3 L166.1,490.7 L174.3,489.1 L182.5,487.8 L190.7,487.2 L198.9,487.0 L207.1,487.3 L215.2,488.2 L223.4,489.4 L231.6,490.7 L239.8,491.7 L248.0,492.5 L256.2,493.5 L264.4,494.8 L272.6,496.3 L280.8,498.1 L288.9,500.2 L297.1,502.2 L305.3,503.8 L313.5,505.8 L321.7,508.5 L329.9,511.2 L338.1,513.0 L346.3,514.0 L354.5,515.0 L362.7,515.7 L370.8,516.5 L379.0,517.9 L387.2,519.7 L395.4,521.9 L403.6,524.6 L411.8,527.8 L420.0,530.9 L428.2,534.0 L436.4,537.2 L444.6,540.3 L452.8,543.0 L460.9,545.6 L469.1,547.6 L477.3,548.2 L485.5,547.8 L493.7,546.4 L501.9,543.2 L510.1,538.0 L518.3,531.3 L526.5,523.9 L534.6,515.9 L542.8,507.9 L551.0,499.4 L559.2,489.8 L567.4,480.1 L575.6,472.1 L583.8,466.9 L592.0,464.1 L600.2,463.9 L608.4,466.9 L616.5,472.8 L624.7,480.8 L632.9,490.0 L641.1,498.9 L649.3,507.0 L657.5,513.7 L665.7,517.8 L673.9,518.5 L682.1,517.7 L690.3,517.3 L698.4,517.5 L706.6,518.4 L714.8,520.2 L723.0,522.6 L731.2,524.8 L739.4,526.3 L747.6,527.0 L755.8,526.9 L764.0,526.0 L772.2,525.0 L780.3,524.2 L788.5,523.8 L796.7,523.7 L804.9,523.8 L813.1,524.4 L821.3,525.3 L829.5,526.3 L837.7,527.5 L845.9,528.3 L854.1,528.6 L862.2,527.8 L870.4,525.8 L878.6,523.4 L886.8,521.0 L895.0,519.4 L903.2,518.9 L911.4,519.0 L919.6,519.0 L927.8,519.0 L936.0,519.2" fill="none" stroke="#f0975a" stroke-width="1" stroke-linejoin="round"/>
<path d="M2.3,509.9 L10.5,507.1 L18.7,504.3 L26.9,503.4 L35.1,502.4 L43.2,501.5 L51.4,499.7 L59.6,496.8 L67.8,493.8 L76.0,491.9 L84.2,490.1 L92.4,488.2 L100.6,488.8 L108.8,489.4 L117.0,491.8 L125.1,493.3 L133.3,494.7 L141.5,496.2 L149.7,492.6 L157.9,488.2 L166.1,484.3 L174.3,483.4 L182.5,483.9 L190.7,482.7 L198.9,484.8 L207.1,488.2 L215.2,491.3 L223.4,493.7 L231.6,494.7 L239.8,495.9 L248.0,495.6 L256.2,496.4 L264.4,499.0 L272.6,501.5 L280.8,504.1 L288.9,506.2 L297.1,509.6 L305.3,512.6 L313.5,515.4 L321.7,518.1 L329.9,520.7 L338.1,521.2 L346.3,517.8 L354.5,517.3 L362.7,517.3 L370.8,519.5 L379.0,522.4 L387.2,526.3 L395.4,530.9 L403.6,534.4 L411.8,539.1 L420.0,544.1 L428.2,547.7 L436.4,550.3 L444.6,553.7 L452.8,554.8 L460.9,556.7 L469.1,554.4 L477.3,551.1 L485.5,546.7 L493.7,542.9 L501.9,532.7 L510.1,521.6 L518.3,506.7 L526.5,494.4 L534.6,485.1 L542.8,474.4 L551.0,463.3 L559.2,447.3 L567.4,442.2 L575.6,440.4 L583.8,444.4 L592.0,452.9 L600.2,456.2 L608.4,471.1 L616.5,488.2 L624.7,512.7 L632.9,531.1 L641.1,542.2 L649.3,546.7 L657.5,545.6 L665.7,534.4 L673.9,521.1 L682.1,515.1 L690.3,512.2 L698.4,514.0 L706.6,520.0 L714.8,527.8 L723.0,533.8 L731.2,533.3 L739.4,533.8 L747.6,530.0 L755.8,526.7 L764.0,524.6 L772.2,519.5 L780.3,519.5 L788.5,522.6 L796.7,523.6 L804.9,524.0 L813.1,525.2 L821.3,527.7 L829.5,531.2 L837.7,531.4 L845.9,531.0 L854.1,530.6 L862.2,527.1 L870.4,519.5 L878.6,512.3 L886.8,510.3 L895.0,512.9 L903.2,517.0 L911.4,518.3 L919.6,518.7 L927.8,519.9 L936.0,519.5" fill="none" stroke="#5b9be0" stroke-width="1" stroke-linejoin="round"/>
</svg>
<!-- axes -->
<div class="abs" style="left:938px;top:0;width:37px;height:425px;background:#fff"></div>
<div class="abs" style="left:938px;top:427px;width:37px;height:141px;background:#fff"></div>
<div class="abs" style="left:0;top:569.5px;width:975px;height:16px;background:#fff"></div>
<div class="abs" style="left:937px;top:0;width:1px;height:585px;background:#dcdfe4"></div>
<div class="abs" style="left:0;top:425.6px;width:975px;height:1.3px;background:#c9ccd2"></div>
<div class="abs" style="left:0;top:568.5px;width:975px;height:1.4px;background:#74777c"></div>
<div class="tick" style="top:4.7px"></div>
<div class="tick" style="top:22.8px"></div>
<div class="tick" style="top:40.9px"></div>
<div class="tick" style="top:59.0px"></div>
<div class="tick" style="top:77.1px"></div>
<div class="tick" style="top:95.3px"></div>
<div class="tick" style="top:113.4px"></div>
<div class="tick" style="top:131.5px"></div>
<div class="tick" style="top:149.6px"></div>
<div class="tick" style="top:167.7px"></div>
<div class="tick" style="top:185.9px"></div>
<div class="tick" style="top:204.0px"></div>
<div class="tick" style="top:222.1px"></div>
<div class="tick" style="top:240.2px"></div>
<div class="tick" style="top:258.3px"></div>
<div class="tick" style="top:276.5px"></div>
<div class="tick" style="top:294.6px"></div>
<div class="tick" style="top:312.7px"></div>
<div class="tick" style="top:330.8px"></div>
<div class="tick" style="top:348.9px"></div>
<div class="tick" style="top:367.1px"></div>
<div class="tick" style="top:385.2px"></div>
<div class="tick" style="top:403.3px"></div>
<div class="tick" style="top:421.4px"></div>
<div class="tick" style="top:432.8px"></div>
<div class="tick" style="top:468.0px"></div>
<div class="tick" style="top:503.0px"></div>
<div class="tick" style="top:538.3px"></div>
<div class="tk2" style="left:1.8px"></div>
<div class="tk2" style="left:83.7px"></div>
<div class="tk2" style="left:173.8px"></div>
<div class="tk2" style="left:231.1px"></div>
<div class="tk2" style="left:280.3px"></div>
<div class="tk2" style="left:354.0px"></div>
<div class="tk2" style="left:435.9px"></div>
<div class="tk2" style="left:517.8px"></div>
<div class="tk2" style="left:599.7px"></div>
<div class="tk2" style="left:648.8px"></div>
<div class="tk2" style="left:697.9px"></div>
<div class="tk2" style="left:763.5px"></div>
<div class="tk2" style="left:812.6px"></div>
<div class="tk2" style="left:878.1px"></div>
<div class="tk2" style="left:927.3px"></div>
<!-- legend backgrounds -->
<div class="abs" style="left:0;top:0;width:172px;height:15px;background:#fff"></div>
<div class="abs" style="left:0;top:15px;width:95px;height:18px;background:#fff"></div>
<div class="abs" style="left:0;top:33px;width:110px;height:13px;background:#fff"></div>
<div class="abs" style="left:0;top:429px;width:165px;height:13px;background:#fff"></div>
<!-- status dot + pill -->
<div class="abs" style="left:144.1px;top:3.2px;width:9.2px;height:9.2px;border-radius:5px;background:#e6f4f2"></div>
<div class="abs" style="left:146.6px;top:5.7px;width:4.2px;height:4.2px;border-radius:3px;background:#3d9c8a"></div>
<div class="abs" style="left:154.3px;top:3.6px;width:10.6px;height:8.7px;border-radius:3.6px;background:#f5b8cd"></div>
<div class="abs" style="left:157.4px;top:6.5px;width:4.4px;height:0.9px;background:#cc4f80"></div>
<div class="abs" style="left:157.4px;top:8.5px;width:4.4px;height:0.9px;background:#cc4f80"></div>
<!-- buy/sell boxes -->
<div class="abs" style="left:2.8px;top:17.2px;width:34.1px;height:11.7px;border:1px solid #e58a84;border-radius:2.5px;background:#fff"></div>
<div class="abs" style="left:55.5px;top:17.2px;width:33.7px;height:11.7px;border:1px solid #7fb4e6;border-radius:2.5px;background:#fff"></div>
<!-- USD -->
<div class="abs" style="left:947.3px;top:2.6px;width:15.7px;height:8.7px;border:1px solid #cfd2d7;border-radius:2.5px;background:#fff;z-index:3"></div>
<!-- price tags -->
<div class="abs" style="left:938px;top:272.6px;width:33.4px;height:10px;background:#52a89b;z-index:4"></div>
<div class="abs" style="left:938px;top:296.3px;width:33.4px;height:10px;background:#c4453c;z-index:4"></div>
<div class="t" style="left:4.0px;top:1.91px;font-size:9.9px;line-height:11.88px;color:#3a3d42;transform:scaleX(0.9760);-webkit-text-stroke:0.15px #3a3d42">Euro / U.S. Dollar</div>
<div class="t" style="left:81.6px;top:2.21px;font-size:9.4px;line-height:11.28px;color:#a0a3a8;transform:scaleX(0.7680);">·</div>
<div class="t" style="left:87.4px;top:1.91px;font-size:9.9px;line-height:11.88px;color:#3a3d42;transform:scaleX(0.7208);-webkit-text-stroke:0.35px #3a3d42">1D</div>
<div class="t" style="left:99.1px;top:2.21px;font-size:9.4px;line-height:11.28px;color:#a0a3a8;transform:scaleX(0.7680);">·</div>
<div class="t" style="left:104.4px;top:1.91px;font-size:9.9px;line-height:11.88px;color:#3a3d42;transform:scaleX(0.8085);-webkit-text-stroke:0.3px #3a3d42">OANDA</div>
<div class="t" style="left:174.3px;top:3.94px;font-size:8.1px;line-height:9.72px;color:#4a4d52;transform:scaleX(0.7464);-webkit-text-stroke:0.2px #4a4d52">O</div>
<div class="t" style="left:180.2px;top:4.30px;font-size:8.0px;line-height:9.60px;color:#e0695f;transform:scaleX(0.8955);">1.21708</div>
<div class="t" style="left:209.5px;top:3.94px;font-size:8.1px;line-height:9.72px;color:#4a4d52;transform:scaleX(0.8704);-webkit-text-stroke:0.2px #4a4d52">H</div>
<div class="t" style="left:215.1px;top:4.30px;font-size:8.0px;line-height:9.60px;color:#e0695f;transform:scaleX(0.9059);">1.21725</div>
<div class="t" style="left:244.5px;top:3.94px;font-size:8.1px;line-height:9.72px;color:#4a4d52;transform:scaleX(0.7308);-webkit-text-stroke:0.2px #4a4d52">L</div>
<div class="t" style="left:249.0px;top:4.30px;font-size:8.0px;line-height:9.60px;color:#e0695f;transform:scaleX(0.8575);">1.21643</div>
<div class="t" style="left:279.3px;top:3.94px;font-size:8.1px;line-height:9.72px;color:#4a4d52;transform:scaleX(0.4949);-webkit-text-stroke:0.2px #4a4d52">C</div>
<div class="t" style="left:283.0px;top:4.30px;font-size:8.0px;line-height:9.60px;color:#e0695f;transform:scaleX(0.9163);">1.21660</div>
<div class="t" style="left:314.0px;top:4.30px;font-size:8.0px;line-height:9.60px;color:#e0695f;transform:scaleX(0.8573);">−0.00048</div>
<div class="t" style="left:346.2px;top:4.30px;font-size:8.0px;line-height:9.60px;color:#e0695f;transform:scaleX(0.8260);">(−0.04%)</div>
<div class="t" style="left:8.3px;top:19.00px;font-size:7.5px;line-height:9.00px;color:#de6a62;transform:scaleX(0.9454);">1.2164</div>
<div class="t" style="left:30.4px;top:19.84px;font-size:4.6px;line-height:5.52px;color:#de6a62;transform:scaleX(0.8976);">2</div>
<div class="t" style="left:43.0px;top:20.68px;font-size:5.7px;line-height:6.84px;color:#55585d;transform:scaleX(1.0477);">3.5</div>
<div class="t" style="left:61.0px;top:19.00px;font-size:7.5px;line-height:9.00px;color:#4d8fd6;transform:scaleX(0.9454);">1.2167</div>
<div class="t" style="left:83.1px;top:19.84px;font-size:4.6px;line-height:5.52px;color:#4d8fd6;transform:scaleX(0.8585);">7</div>
<div class="t" style="left:4.0px;top:36.54px;font-size:7.1px;line-height:8.52px;color:#44474c;transform:scaleX(1.0050);">Upside Tasuki Gap - Bull SMA50</div>
<div class="t" style="left:3.7px;top:432.84px;font-size:7.1px;line-height:8.52px;color:#44474c;transform:scaleX(0.9837);">MACD 12 26 close 9</div>
<div class="t" style="left:72.8px;top:432.84px;font-size:7.1px;line-height:8.52px;color:#4aa396;transform:scaleX(1.0109);">0.00114</div>
<div class="t" style="left:101.6px;top:432.84px;font-size:7.1px;line-height:8.52px;color:#4d8fd6;transform:scaleX(1.0446);">0.00080</div>
<div class="t" style="left:132.0px;top:432.84px;font-size:7.1px;line-height:8.52px;color:#ef8c4e;transform:scaleX(0.9867);">−0.00033</div>
<div class="t" style="left:950.6px;top:4.54px;font-size:6.6px;line-height:7.92px;color:#3a3d42;transform:scaleX(0.8620);z-index:5">USD</div>
<div class="t" style="left:942.2px;top:1.85px;font-size:7.1px;line-height:8.52px;color:#2f3237;transform:scaleX(0.9199);">1.16000</div>
<div class="t" style="left:942.2px;top:19.97px;font-size:7.1px;line-height:8.52px;color:#2f3237;transform:scaleX(0.9199);">1.15500</div>
<div class="t" style="left:942.2px;top:38.09px;font-size:7.1px;line-height:8.52px;color:#2f3237;transform:scaleX(0.9199);">1.15000</div>
<div class="t" style="left:942.2px;top:56.21px;font-size:7.1px;line-height:8.52px;color:#2f3237;transform:scaleX(0.9199);">1.14500</div>
<div class="t" style="left:942.2px;top:74.33px;font-size:7.1px;line-height:8.52px;color:#2f3237;transform:scaleX(0.9199);">1.14000</div>
<div class="t" style="left:942.2px;top:92.45px;font-size:7.1px;line-height:8.52px;color:#2f3237;transform:scaleX(0.9199);">1.13500</div>
<div class="t" style="left:942.2px;top:110.57px;font-size:7.1px;line-height:8.52px;color:#2f3237;transform:scaleX(0.9199);">1.13000</div>
<div class="t" style="left:942.2px;top:128.69px;font-size:7.1px;line-height:8.52px;color:#2f3237;transform:scaleX(0.9199);">1.12500</div>
<div class="t" style="left:942.2px;top:146.81px;font-size:7.1px;line-height:8.52px;color:#2f3237;transform:scaleX(0.9199);">1.12000</div>
<div class="t" style="left:942.2px;top:164.93px;font-size:7.1px;line-height:8.52px;color:#2f3237;transform:scaleX(0.9393);">1.11500</div>
<div class="t" style="left:942.2px;top:183.05px;font-size:7.1px;line-height:8.52px;color:#2f3237;transform:scaleX(0.9393);">1.11000</div>
<div class="t" style="left:942.2px;top:201.17px;font-size:7.1px;line-height:8.52px;color:#2f3237;transform:scaleX(0.9199);">1.10500</div>
<div class="t" style="left:942.2px;top:219.29px;font-size:7.1px;line-height:8.52px;color:#2f3237;transform:scaleX(0.9199);">1.10000</div>
<div class="t" style="left:942.2px;top:237.41px;font-size:7.1px;line-height:8.52px;color:#2f3237;transform:scaleX(0.9199);">1.09500</div>
<div class="t" style="left:942.2px;top:255.53px;font-size:7.1px;line-height:8.52px;color:#2f3237;transform:scaleX(0.9199);">1.09000</div>
<div class="t" style="left:942.2px;top:273.65px;font-size:7.1px;line-height:8.52px;color:#2f3237;transform:scaleX(0.9199);">1.08500</div>
<div class="t" style="left:942.2px;top:291.77px;font-size:7.1px;line-height:8.52px;color:#2f3237;transform:scaleX(0.9199);">1.08000</div>
<div class="t" style="left:942.2px;top:309.89px;font-size:7.1px;line-height:8.52px;color:#2f3237;transform:scaleX(0.9199);">1.07500</div>
<div class="t" style="left:942.2px;top:328.01px;font-size:7.1px;line-height:8.52px;color:#2f3237;transform:scaleX(0.9199);">1.07000</div>
<div class="t" style="left:942.2px;top:346.13px;font-size:7.1px;line-height:8.52px;color:#2f3237;transform:scaleX(0.9199);">1.06500</div>
<div class="t" style="left:942.2px;top:364.25px;font-size:7.1px;line-height:8.52px;color:#2f3237;transform:scaleX(0.9199);">1.06000</div>
<div class="t" style="left:942.2px;top:382.37px;font-size:7.1px;line-height:8.52px;color:#2f3237;transform:scaleX(0.9199);">1.05500</div>
<div class="t" style="left:942.2px;top:400.49px;font-size:7.1px;line-height:8.52px;color:#2f3237;transform:scaleX(0.9199);">1.05000</div>
<div class="t" style="left:942.2px;top:418.61px;font-size:7.1px;line-height:8.52px;color:#2f3237;transform:scaleX(0.9199);">1.04500</div>
<div class="t" style="left:942.2px;top:429.94px;font-size:7.1px;line-height:8.52px;color:#2f3237;transform:scaleX(0.9199);">0.01000</div>
<div class="t" style="left:942.2px;top:465.14px;font-size:7.1px;line-height:8.52px;color:#2f3237;transform:scaleX(0.9199);">0.00500</div>
<div class="t" style="left:942.2px;top:500.14px;font-size:7.1px;line-height:8.52px;color:#2f3237;transform:scaleX(0.9199);">0.00000</div>
<div class="t" style="left:938.8px;top:535.44px;font-size:7.1px;line-height:8.52px;color:#2f3237;transform:scaleX(0.9061);">−0.00500</div>
<div class="t" style="left:942.2px;top:274.34px;font-size:7.1px;line-height:8.52px;color:#fff;transform:scaleX(0.9199);z-index:5">1.08474</div>
<div class="t" style="left:942.2px;top:298.14px;font-size:7.1px;line-height:8.52px;color:#fff;transform:scaleX(0.9199);z-index:5">1.07812</div>
<div class="t" style="left:-3.5px;top:574.80px;font-size:7.0px;line-height:8.40px;color:#33363b;transform:scaleX(0.9235);">Dec</div>
<div class="t" style="left:81.0px;top:574.80px;font-size:7.0px;line-height:8.40px;color:#33363b;transform:scaleX(0.8208);">16</div>
<div class="t" style="left:166.4px;top:574.80px;font-size:7.0px;line-height:8.40px;color:#33363b;transform:scaleX(1.0078);font-weight:bold">2020</div>
<div class="t" style="left:228.4px;top:574.80px;font-size:7.0px;line-height:8.40px;color:#33363b;transform:scaleX(0.8208);">13</div>
<div class="t" style="left:277.6px;top:574.80px;font-size:7.0px;line-height:8.40px;color:#33363b;transform:scaleX(0.8208);">21</div>
<div class="t" style="left:348.7px;top:574.80px;font-size:7.0px;line-height:8.40px;color:#33363b;transform:scaleX(0.9534);">Feb</div>
<div class="t" style="left:433.2px;top:574.80px;font-size:7.0px;line-height:8.40px;color:#33363b;transform:scaleX(0.8208);">17</div>
<div class="t" style="left:512.5px;top:574.80px;font-size:7.0px;line-height:8.40px;color:#33363b;transform:scaleX(0.9534);">Mar</div>
<div class="t" style="left:597.0px;top:574.80px;font-size:7.0px;line-height:8.40px;color:#33363b;transform:scaleX(0.8208);">16</div>
<div class="t" style="left:646.1px;top:574.80px;font-size:7.0px;line-height:8.40px;color:#33363b;transform:scaleX(0.8208);">24</div>
<div class="t" style="left:692.7px;top:574.80px;font-size:7.0px;line-height:8.40px;color:#33363b;transform:scaleX(1.0544);">Apr</div>
<div class="t" style="left:760.8px;top:574.80px;font-size:7.0px;line-height:8.40px;color:#33363b;transform:scaleX(0.8208);">13</div>
<div class="t" style="left:809.9px;top:574.80px;font-size:7.0px;line-height:8.40px;color:#33363b;transform:scaleX(0.8208);">21</div>
<div class="t" style="left:872.9px;top:574.80px;font-size:7.0px;line-height:8.40px;color:#33363b;transform:scaleX(0.8689);">May</div>
<div class="t" style="left:924.6px;top:574.80px;font-size:7.0px;line-height:8.40px;color:#33363b;transform:scaleX(0.8790);">11</div>
<svg width="975" height="585" viewBox="0 0 975 585"><path d="M662.7 321.5 H659.4 V312.7 Q658 313.9 656.2 314.6 V311.7 Q658.9 310.6 660.1 308 H662.7 Z" fill="#0c0c0c"/></svg>
<!-- TV logo -->
<div class="abs" style="left:3.3px;top:546.4px;width:18px;height:18px;border-radius:9px;background:#fff;border:1px solid #eef0f3;box-sizing:border-box"></div>
<svg width="40" height="30" viewBox="0 540 40 30" style="left:0;top:540px"><path d="M6 557.4 L6 556.2 Q8.2 552 11 551.6 Q13.2 551.4 14.2 553.6 Q16.6 553.2 17.4 555.2 Q18.9 555.6 18.9 557.3 Q18.8 558.9 17 558.9 L7.6 558.9 Q6 558.9 6 557.4 Z" fill="#4a93dc"/><path d="M7.4 557.6 L10.9 554.4 L13.2 556.7 L15.4 554.9 L17.8 557.6" fill="none" stroke="#d9ecfc" stroke-width="1.3" stroke-linejoin="round"/></svg>
<!-- >> button -->
<div class="abs" style="left:911.6px;top:549.7px;width:16px;height:16px;border-radius:8px;background:#fff;border:1px solid #eceef1;box-sizing:border-box"></div>
<svg width="975" height="585" viewBox="0 0 975 585" style="pointer-events:none"><path d="M916.4 555.7 L918.4 557.8 L916.4 559.9" fill="none" stroke="#4a4d52" stroke-width="1"/><path d="M918.7 554.5 L922 557.8 L918.7 561.2" fill="none" stroke="#26292e" stroke-width="1.35"/>
<!-- gear -->
<circle cx="955.9" cy="577.5" r="2.9" fill="none" stroke="#26292e" stroke-width="1.05"/>
<g stroke="#26292e" stroke-width="1.15"><line x1="955.9" y1="573.4" x2="955.9" y2="574.3"/><line x1="955.9" y1="580.7" x2="955.9" y2="581.6"/><line x1="951.8" y1="577.5" x2="952.7" y2="577.5"/><line x1="959.1" y1="577.5" x2="960" y2="577.5"/><line x1="952.8" y1="574.4" x2="953.6" y2="575.2"/><line x1="958.2" y1="579.8" x2="959" y2="580.6"/><line x1="952.8" y1="580.6" x2="953.6" y2="579.8"/><line x1="958.2" y1="575.2" x2="959" y2="574.4"/></g></svg>
</body></html>
